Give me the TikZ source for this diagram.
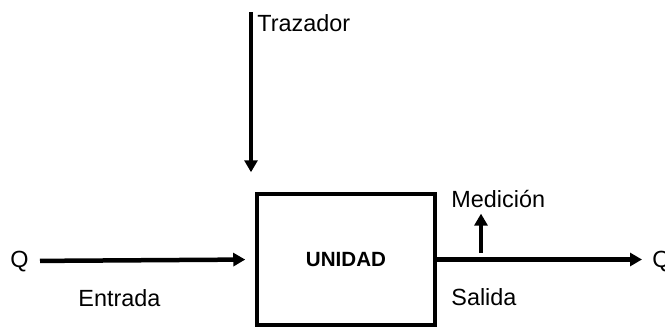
\documentclass[tikz,border=0pt]{standalone}
\usepackage{fontspec}
\setmainfont{Liberation Sans}
\usetikzlibrary{arrows.meta,positioning}

\begin{document}
\begin{tikzpicture}[x=0.5pt, y=-0.5pt, >={Triangle[length=6pt,width=6.5pt]}]
\tikzset{
  flow/.style={->, line width=2.25pt},
  lbl/.style={inner sep=0pt, font=\fontsize{11.7}{13}\selectfont},
}
\useasboundingbox (0,0) rectangle (665,327);

% unit box
\node[draw, line width=1.75pt, minimum width=89pt, minimum height=65.5pt,
      inner sep=0pt, font=\fontsize{10.3}{12}\selectfont\bfseries] (unidad) at (346,259.5) {UNIDAD};

% labels
\node[lbl, anchor=base west] (qin) at (10,267) {Q};
\node[lbl, anchor=base west] (qout) at (652,267) {Q};
\node[lbl, anchor=base west] (entrada) at (78,306) {Entrada};
\node[lbl, anchor=base west] (salida) at (451,305) {Salida};
\node[lbl, anchor=base west] (medicion) at (451,207) {Medición};
\node[lbl, anchor=base west] (trazador) at (257,31) {Trazador};

\coordinate (trz) at (251,12);
\coordinate (med) at (481,259.5);

% flows
\draw[flow, shorten <=5.5pt, shorten >=5pt] (qin) -- (unidad.west);
\draw[flow, shorten >=5pt] (unidad.east) -- (qout.west |- unidad.east);
\draw[flow, shorten >=10pt] (trz) -- (trz |- unidad.north);
\draw[flow, shorten <=3.5pt, shorten >=3pt] (med) -- (med |- medicion.south);
\end{tikzpicture}
\end{document}
